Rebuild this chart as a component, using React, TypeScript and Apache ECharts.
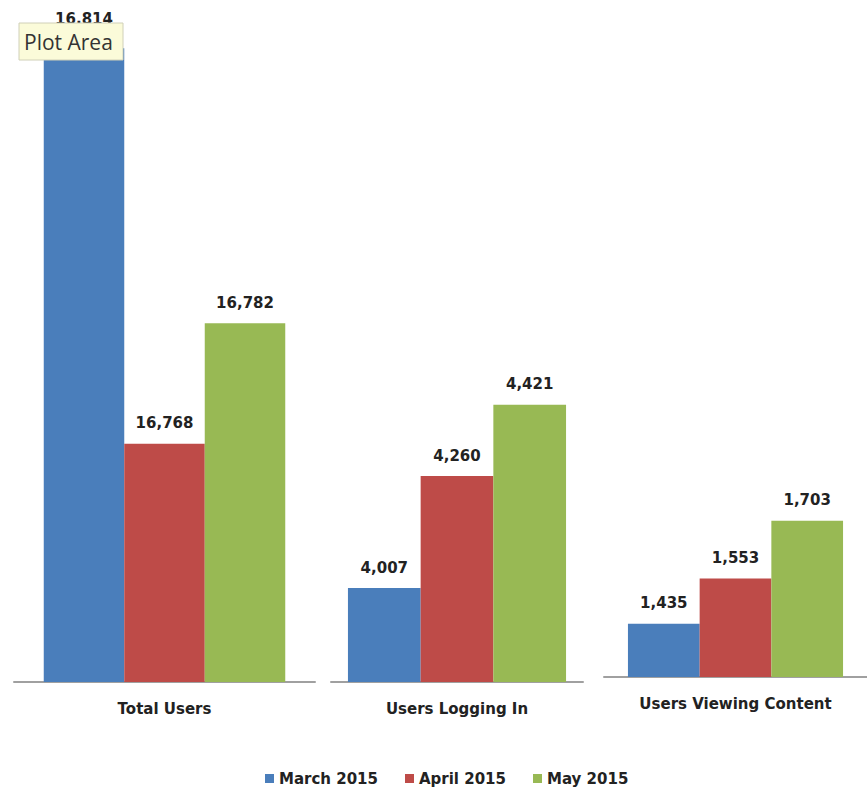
import React, { useEffect, useRef } from "react";
import * as echarts from "echarts";

const categories = ["Total Users", "Users Logging In", "Users Viewing Content"];
const seriesNames = ["March 2015", "April 2015", "May 2015"];
const march2015 = [16814, 4007, 1435];
const april2015 = [16768, 4260, 1553];
const may2015 = [16782, 4421, 1703];
const colors = ["#4a7ebb", "#be4b48", "#98b954"];

// per-panel layout (broken axes, each panel its own scale)
const panels = [
  { left: 14, width: 301, height: 682, min: 16740.3, max: 16819.6, barWidth: 80.5 },
  { left: 331, width: 252, height: 682, min: 3795, max: 5335, barWidth: 72.7 },
  { left: 604, width: 271, height: 677, min: 1297, max: 3055, barWidth: 71.7 },
];

const FONT = "'DejaVu Sans'";

export default function App() {
  const ref = useRef<HTMLDivElement>(null);
  useEffect(() => {
    if (!ref.current) return;
    const chart = echarts.init(ref.current, undefined, { renderer: "svg" });
    const values = [march2015, april2015, may2015];
    const series: any[] = [];
    panels.forEach((p, i) => {
      values.forEach((vals, s) => {
        series.push({
          type: "bar",
          name: seriesNames[s],
          xAxisIndex: i,
          yAxisIndex: i,
          data: [vals[i]],
          barWidth: p.barWidth,
          barGap: "0%",
          itemStyle: { color: colors[s] },
          label: {
            show: true,
            position: "top",
            distance: i === 0 && s === 0 ? 22 : 13,
            formatter: (d: any) => d.value.toLocaleString("en-US"),
            fontFamily: FONT,
            fontWeight: "bold",
            fontSize: 15,
            color: "#222",
          },
        });
      });
    });
    chart.setOption({
      animation: false,
      backgroundColor: "#ffffff",
      grid: panels.map((p) => ({ left: p.left, top: 0, width: p.width, height: p.height })),
      xAxis: panels.map((p, i) => ({
        type: "category",
        gridIndex: i,
        data: [categories[i]],
        axisLine: { show: true, lineStyle: { color: "#a0a0a0", width: 2 } },
        axisTick: { show: false },
        axisLabel: {
          margin: 19,
          fontFamily: FONT,
          fontWeight: "bold",
          fontSize: 15,
          color: "#222",
        },
      })),
      yAxis: panels.map((p, i) => ({
        type: "value",
        gridIndex: i,
        min: p.min,
        max: p.max,
        show: false,
        splitLine: { show: false },
      })),
      legend: {
        top: 766,
        left: 260,
        data: seriesNames,
        icon: "rect",
        itemWidth: 9,
        itemHeight: 9,
        itemGap: 27,
        textStyle: {
          fontFamily: FONT,
          fontWeight: "bold",
          fontSize: 15,
          color: "#222",
        },
      },
      graphic: [
        {
          type: "rect",
          z: 100,
          shape: { x: 19, y: 23, width: 104, height: 37 },
          style: { fill: "#fbfbd9", stroke: "#d0d0b8", lineWidth: 1 },
        },
        {
          type: "text",
          z: 101,
          x: 24,
          y: 42,
          style: {
            text: "Plot Area",
            font: "21px 'Open Sans'",
            fill: "#333",
            verticalAlign: "middle",
          },
        },
      ],
      series,
    });
    return () => chart.dispose();
  }, []);
  return (
    <div
      ref={ref}
      style={{ position: "fixed", left: 0, top: 0, width: 867, height: 787 }}
    />
  );
}
